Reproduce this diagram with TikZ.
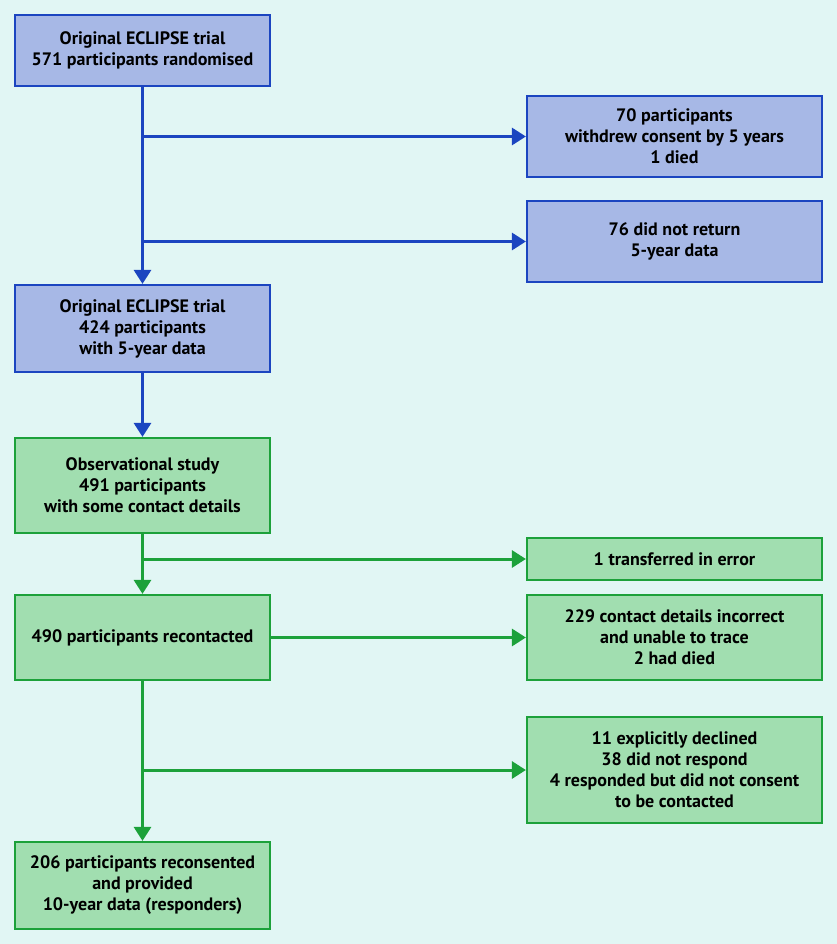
\documentclass[tikz,border=0pt]{standalone}
\usepackage{fontspec}
\setmainfont{PT Sans}
\usetikzlibrary{arrows.meta}
\definecolor{bgcol}{HTML}{E1F6F4}
\definecolor{bluefill}{HTML}{A7B8E6}
\definecolor{blueline}{HTML}{1B45C0}
\definecolor{greenfill}{HTML}{A1DEB0}
\definecolor{greenline}{HTML}{1CA13A}
\begin{document}
\begin{tikzpicture}[x=1pt, y=-1pt,
  box/.style={draw, line width=2.2pt, align=center, inner sep=2pt,
    font=\bfseries\fontsize{18}{21}\selectfont},
  bluebox/.style={box, draw=blueline, fill=bluefill},
  greenbox/.style={box, draw=greenline, fill=greenfill},
  leftbox/.style={minimum width=255pt},
  rightbox/.style={minimum width=295pt},
  flow/.style={line width=3pt, -{Triangle[length=14pt, width=17pt]}},
  blueflow/.style={flow, draw=blueline, fill=blueline},
  greenflow/.style={flow, draw=greenline, fill=greenline}]
\fill[bgcol] (0, 0) rectangle (837, 944);
%boxes
\node[bluebox, leftbox, minimum height=71pt] (original) at (142.5, 50.5) {Original ECLIPSE trial\\571 participants randomised};
\node[bluebox, rightbox, minimum height=81pt] (withdrew) at (674.5, 136.5) {70 participants\\withdrew consent by 5 years\\1 died};
\node[bluebox, rightbox, minimum height=81pt] (noreturn) at (674.5, 241.5) {76 did not return\\5-year data};
\node[bluebox, leftbox, minimum height=87pt] (fiveyear) at (142.5, 328.5) {Original ECLIPSE trial\\424 participants\\with 5-year data};
\node[greenbox, leftbox, minimum height=95pt] (observ) at (142.5, 485.5) {Observational study\\491 participants\\with some contact details};
\node[greenbox, rightbox, minimum height=42pt] (transferred) at (674.5, 559) {1 transferred in error};
\node[greenbox, leftbox, minimum height=85pt] (recontacted) at (142.5, 637.5) {490 participants recontacted};
\node[greenbox, rightbox, minimum height=85pt] (incorrect) at (674.5, 637.5) {229 contact details incorrect\\and unable to trace\\2 had died};
\node[greenbox, rightbox, minimum height=106pt] (declined) at (674.5, 770) {11 explicitly declined\\38 did not respond\\4 responded but did not consent\\to be contacted};
\node[greenbox, leftbox, minimum height=87pt] (responders) at (142.5, 885.5) {206 participants reconsented\\and provided\\10-year data (responders)};
%branch points
\coordinate (b1) at (142.5, 136.5);
\coordinate (b2) at (142.5, 241.5);
\coordinate (g1) at (142.5, 559);
\coordinate (g2) at (142.5, 770);
%connectors
\draw[blueflow] (original) -- (fiveyear);
\draw[blueflow] (b1) -- (withdrew);
\draw[blueflow] (b2) -- (noreturn);
\draw[blueflow] (fiveyear) -- (observ);
\draw[greenflow] (observ) -- (recontacted);
\draw[greenflow] (g1) -- (transferred);
\draw[greenflow] (recontacted) -- (incorrect);
\draw[greenflow] (recontacted) -- (responders);
\draw[greenflow] (g2) -- (declined);
\end{tikzpicture}
\end{document}
